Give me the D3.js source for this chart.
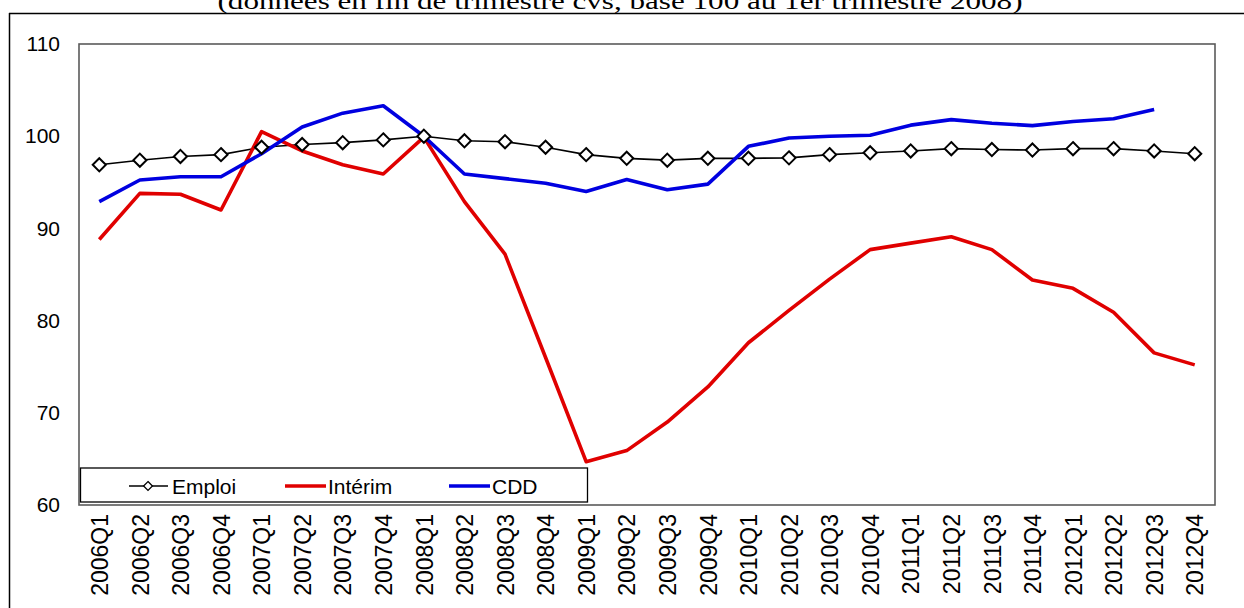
<!DOCTYPE html>
<html>

<head>
    <title>Emploi, Interim, CDD</title>
    <script src="https://d3js.org/d3.v7.min.js"></script>
    <style>
        body { margin: 0; background: white; }
        text { font-family: "Liberation Sans", Arial, sans-serif; }
    </style>
</head>

<body>
    <div id="chart"></div>

    <script>
        // Data
        const quarters = ['2006Q1', '2006Q2', '2006Q3', '2006Q4', '2007Q1', '2007Q2', '2007Q3', '2007Q4',
                          '2008Q1', '2008Q2', '2008Q3', '2008Q4', '2009Q1', '2009Q2', '2009Q3', '2009Q4',
                          '2010Q1', '2010Q2', '2010Q3', '2010Q4', '2011Q1', '2011Q2', '2011Q3', '2011Q4',
                          '2012Q1', '2012Q2', '2012Q3', '2012Q4'];
        const emploi = [96.9, 97.4, 97.8, 98.0, 98.8, 99.1, 99.3, 99.6, 100.0, 99.5, 99.4, 98.8, 98.0, 97.6,
                        97.4, 97.6, 97.6, 97.65, 98.0, 98.2, 98.4, 98.65, 98.55, 98.5, 98.65, 98.65, 98.4, 98.1];
        const interim = [88.8, 93.8, 93.7, 92.0, 100.5, 98.4, 96.9, 95.9, 99.9, 92.9, 87.2, 76.0, 64.7, 65.9,
                         69.0, 72.8, 77.6, 81.1, 84.5, 87.7, 88.4, 89.1, 87.7, 84.4, 83.5, 80.9, 76.5, 75.2];
        const cdd = [92.9, 95.25, 95.6, 95.6, 98.1, 101.0, 102.5, 103.3, 100.0, 95.9, 95.4, 94.9, 94.0, 95.3,
                     94.2, 94.8, 98.9, 99.8, 100.0, 100.1, 101.2, 101.8, 101.4, 101.15, 101.6, 101.9, 102.9, null];
        const yTicks = [60, 70, 80, 90, 100, 110];
        const titleText = '(données en fin de trimestre cvs, base 100 au 1er trimestre 2008)';

        const chartWidth = 1244;
        const chartHeight = 608;
        const plotLeft = 79, plotRight = 1215, plotTop = 44, plotBottom = 505;

        const svg = d3.select('#chart').append('svg')
                      .attr('width', chartWidth)
                      .attr('height', chartHeight);

        // Title (cut off at the top, as in the source page)
        svg.append('text')
           .attr('x', 620)
           .attr('y', 9)
           .attr('text-anchor', 'middle')
           .attr('textLength', 805)
           .attr('lengthAdjust', 'spacingAndGlyphs')
           .style('font-family', '"Liberation Serif", serif')
           .style('font-size', '24px')
           .text(titleText);

        // Outer frame
        svg.append('line')
           .attr('x1', 9).attr('x2', chartWidth)
           .attr('y1', 13.5).attr('y2', 13.5)
           .attr('stroke', 'black').attr('stroke-width', 1.5);
        svg.append('line')
           .attr('x1', 9.5).attr('x2', 9.5)
           .attr('y1', 13).attr('y2', chartHeight)
           .attr('stroke', 'black').attr('stroke-width', 1.5);

        // Scales
        const xScale = d3.scalePoint()
                         .domain(quarters)
                         .range([plotLeft, plotRight])
                         .padding(0.5);
        const yScale = d3.scaleLinear()
                         .domain([60, 110])
                         .range([plotBottom, plotTop]);

        // Plot area border
        svg.append('rect')
           .attr('x', plotLeft)
           .attr('y', plotTop)
           .attr('width', plotRight - plotLeft)
           .attr('height', plotBottom - plotTop)
           .attr('fill', 'white')
           .attr('stroke', '#5a5a5a')
           .attr('stroke-width', 1.6);

        // Y axis labels
        const yAxis = svg.append('g')
                         .attr('transform', `translate(${plotLeft}, 0)`)
                         .call(d3.axisLeft(yScale).tickValues(yTicks).tickSize(0).tickPadding(19));
        yAxis.select('.domain').remove();
        yAxis.selectAll('text')
             .style('font-family', '"Liberation Sans", Arial, sans-serif')
             .style('font-size', '21px')
             .attr('fill', 'black');

        // X axis labels (rotated)
        const xAxis = svg.append('g')
                         .attr('transform', `translate(0, ${plotBottom})`)
                         .call(d3.axisBottom(xScale).tickSize(0));
        xAxis.select('.domain').remove();
        xAxis.selectAll('text')
             .attr('transform', 'rotate(-90)')
             .attr('text-anchor', 'end')
             .attr('x', -9)
             .attr('y', 0)
             .attr('dy', '0.36em')
             .style('font-family', '"Liberation Sans", Arial, sans-serif')
             .style('font-size', '23px')
             .attr('fill', 'black');

        // Lines
        const line = d3.line()
                       .defined((d) => d != null)
                       .x((d, i) => xScale(quarters[i]))
                       .y((d) => yScale(d));

        svg.append('path')
           .datum(emploi)
           .attr('d', line)
           .attr('fill', 'none')
           .attr('stroke', 'black')
           .attr('stroke-width', 1.6);

        svg.append('path')
           .datum(interim)
           .attr('d', line)
           .attr('fill', 'none')
           .attr('stroke', '#e00000')
           .attr('stroke-width', 3.6)
           .attr('stroke-linejoin', 'round');

        svg.append('path')
           .datum(cdd)
           .attr('d', line)
           .attr('fill', 'none')
           .attr('stroke', '#0000e0')
           .attr('stroke-width', 3.6)
           .attr('stroke-linejoin', 'round');

        // Diamonds on Emploi
        const diamond = d3.symbol().type(d3.symbolDiamond2).size(110);
        emploi.forEach((d, i) => {
            svg.append('path')
               .attr('d', diamond)
               .attr('transform', `translate(${xScale(quarters[i])}, ${yScale(d)})`)
               .attr('fill', 'white')
               .attr('stroke', 'black')
               .attr('stroke-width', 2);
        });

        // Legend
        svg.append('rect')
           .attr('x', 80.5)
           .attr('y', 468)
           .attr('width', 507)
           .attr('height', 34)
           .attr('fill', 'white')
           .attr('stroke', 'black')
           .attr('stroke-width', 1.3);

        const legendItems = [
            { name: 'Emploi', color: 'black', x1: 129, x2: 168, tx: 172, w: 1.5 },
            { name: 'Intérim', color: '#e00000', x1: 285, x2: 326, tx: 328, w: 3.6 },
            { name: 'CDD', color: '#0000e0', x1: 449, x2: 490, tx: 492, w: 3.6 }
        ];
        const ly = 486;
        legendItems.forEach((item) => {
            svg.append('line')
               .attr('x1', item.x1).attr('x2', item.x2)
               .attr('y1', ly).attr('y2', ly)
               .attr('stroke', item.color)
               .attr('stroke-width', item.w);
            svg.append('text')
               .attr('x', item.tx)
               .attr('y', ly)
               .attr('dy', '0.36em')
               .style('font-size', '21px')
               .text(item.name);
        });
        svg.append('path')
           .attr('d', d3.symbol().type(d3.symbolDiamond2).size(50))
           .attr('transform', `translate(148, ${ly})`)
           .attr('fill', 'white')
           .attr('stroke', 'black')
           .attr('stroke-width', 1.3);
    </script>
</body>

</html>
